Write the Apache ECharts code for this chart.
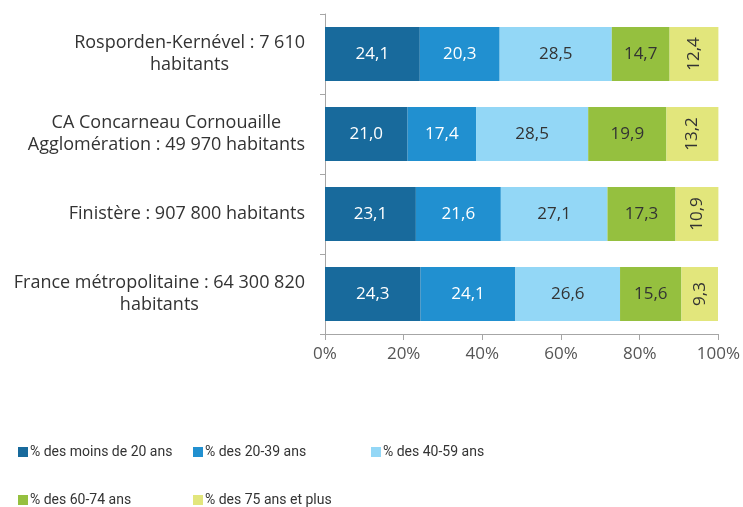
<!DOCTYPE html>
<html>
<head>
<meta charset="utf-8">
<script src="https://cdn.jsdelivr.net/npm/echarts@6/dist/echarts.min.js"></script>
<style>
  html, body { margin: 0; padding: 0; background: #fff; }
  #chart { width: 743px; height: 507px; }
</style>
</head>
<body>
<div id="chart"></div>
<script>
// territoires (de haut en bas)
const categories = [
  'Rosporden-Kernével : 7 610\nhabitants',
  'CA Concarneau Cornouaille\nAgglomération : 49 970 habitants',
  'Finistère : 907 800 habitants',
  'France métropolitaine : 64 300 820\nhabitants'
]
const seriesNames = ['% des moins de 20 ans', '% des 20-39 ans', '% des 40-59 ans', '% des 60-74 ans', '% des 75 ans et plus']
const moins20 = [24.1, 21.0, 23.1, 24.3]
const ans20_39 = [20.3, 17.4, 21.6, 24.1]
const ans40_59 = [28.5, 28.5, 27.1, 26.6]
const ans60_74 = [14.7, 19.9, 17.3, 15.6]
const ans75plus = [12.4, 13.2, 10.9, 9.3]
const xTicks = ['0%', '20%', '40%', '60%', '80%', '100%']

const colors = ['#186a9c', '#2190d0', '#93d7f6', '#95c03f', '#e2e67c']
const labelColors = ['#fff', '#fff', '#333', '#333', '#333']
const values = [moins20, ans20_39, ans40_59, ans60_74, ans75plus]

let myChart = echarts.init(document.getElementById('chart'))
const font = 'Open Sans'

let series = values.map((v, i) => {
  return {
    name: seriesNames[i],
    type: 'bar',
    stack: 'total',
    barWidth: 54,
    itemStyle: { color: colors[i] },
    label: {
      show: true,
      position: 'inside',
      rotate: i == 4 ? 90 : 0,
      color: labelColors[i],
      fontFamily: font,
      fontSize: 17,
      formatter: (p) => p.value.toFixed(1).replace('.', ',')
    },
    data: v
  }
})

// position de chaque entrée de légende (colonne, ligne)
const legendPos = [[13, 440], [188, 440], [366, 440], [13, 488], [188, 488]]
let legends = seriesNames.map((name, i) => {
  return {
    left: legendPos[i][0],
    top: legendPos[i][1],
    itemWidth: 10,
    itemHeight: 10,
    icon: 'rect',
    textStyle: { color: '#333', fontFamily: 'Roboto', fontSize: 14, padding: [0, 0, 0, -3] },
    data: [name]
  }
})

let option = {
  animation: false,
  grid: { left: 325, right: 24, top: 14, bottom: 173 },
  legend: legends,
  xAxis: {
    type: 'value',
    min: 0,
    max: 100,
    interval: 20,
    splitLine: { show: false },
    axisLine: { show: true, lineStyle: { color: '#a6a6a6' } },
    axisTick: { show: true, length: 6, lineStyle: { color: '#a6a6a6' } },
    axisLabel: {
      color: '#555',
      fontFamily: font,
      fontSize: 17,
      margin: 12,
      formatter: (val) => xTicks[val / 20]
    }
  },
  yAxis: {
    type: 'category',
    inverse: true,
    data: categories,
    axisLine: { show: true, lineStyle: { color: '#a6a6a6' } },
    axisTick: { show: true, length: 5, lineStyle: { color: '#a6a6a6' } },
    axisLabel: {
      margin: 20,
      align: 'right',
      formatter: (val) => val.split('\n').map(s => '{c|' + s + '}').join('\n'),
      rich: {
        c: { align: 'center', color: '#333', fontFamily: font, fontSize: 18, lineHeight: 22 }
      }
    }
  },
  series: series
}
myChart.setOption(option)
</script>
</body>
</html>
